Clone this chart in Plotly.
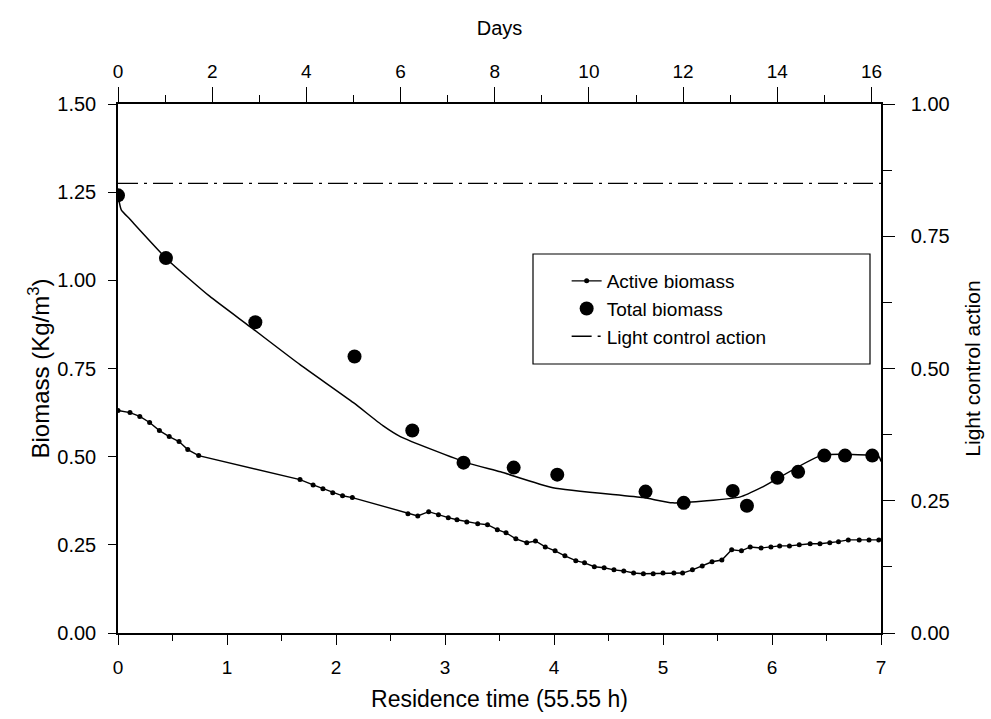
import plotly.graph_objects as go

# ---------------- data ----------------
# Total biomass (measured, residence-time units, Kg/m3)
total_x = [0.0, 0.44, 1.26, 2.17, 2.70, 3.17, 3.63, 4.03, 4.84, 5.19, 5.64, 5.77, 6.05, 6.24, 6.48, 6.67, 6.92]
total_y = [1.241, 1.063, 0.881, 0.784, 0.574, 0.483, 0.469, 0.449, 0.401, 0.369, 0.403, 0.361, 0.440, 0.457, 0.503, 0.503, 0.503]

# Total biomass (model curve)
model_x = [0.0, 0.03, 0.11, 0.45, 0.84, 1.21, 1.67, 2.16, 2.43, 2.59, 3.20, 3.51, 3.99, 4.82, 5.09, 5.71, 5.92, 6.45, 6.98, 7.0]
model_y = [1.241, 1.20, 1.173, 1.060, 0.955, 0.869, 0.761, 0.653, 0.588, 0.557, 0.483, 0.457, 0.412, 0.384, 0.369, 0.386, 0.415, 0.503, 0.500, 0.486]

# Active biomass
active_x = [0.0, 0.11, 0.20, 0.29, 0.38, 0.47, 0.56, 0.64, 0.74, 1.67, 1.79, 1.88, 1.97, 2.06, 2.15,
            2.66, 2.75, 2.85, 2.94, 3.03, 3.11, 3.20, 3.30, 3.39, 3.48, 3.56, 3.65, 3.75, 3.83, 3.92,
            4.01, 4.10, 4.20, 4.28, 4.37, 4.46, 4.55, 4.64, 4.73, 4.82, 4.91, 5.00, 5.10, 5.18, 5.27,
            5.36, 5.45, 5.54, 5.63, 5.72, 5.80, 5.90, 5.99, 6.07, 6.16, 6.25, 6.35, 6.44, 6.53, 6.61,
            6.70, 6.80, 6.89, 6.98]
active_y = [0.631, 0.625, 0.614, 0.597, 0.574, 0.557, 0.543, 0.520, 0.503, 0.435, 0.420, 0.409, 0.398, 0.389, 0.384,
            0.338, 0.332, 0.344, 0.335, 0.327, 0.321, 0.315, 0.310, 0.307, 0.293, 0.284, 0.267, 0.256, 0.261, 0.244,
            0.233, 0.219, 0.205, 0.199, 0.188, 0.185, 0.179, 0.176, 0.170, 0.168, 0.168, 0.170, 0.170, 0.170, 0.179,
            0.190, 0.202, 0.207, 0.236, 0.233, 0.244, 0.241, 0.244, 0.247, 0.247, 0.250, 0.253, 0.253, 0.256, 0.259,
            0.264, 0.264, 0.264, 0.264]

# Light control action (days, right axis)
light_days = [0.0, 16.2021]
light_action = [0.85, 0.85]

# Axis tick values
res_ticks = [0, 1, 2, 3, 4, 5, 6, 7]
day_ticks = [0, 2, 4, 6, 8, 10, 12, 14, 16]
bio_ticks = [0.0, 0.25, 0.5, 0.75, 1.0, 1.25, 1.5]
light_ticks = [0.0, 0.25, 0.5, 0.75, 1.0]

FONT = "Liberation Sans, Arial, sans-serif"

fig = go.Figure()

fig.add_trace(go.Scatter(
    x=active_x, y=active_y, mode="lines+markers", name="Active biomass",
    line=dict(color="black", width=1.4),
    marker=dict(color="black", size=5),
))
fig.add_trace(go.Scatter(
    x=total_x, y=total_y, mode="markers", name="Total biomass",
    marker=dict(color="black", size=14),
))
fig.add_trace(go.Scatter(
    x=model_x, y=model_y, mode="lines", showlegend=False,
    line=dict(color="black", width=1.5, shape="spline", smoothing=0.5),
))
fig.add_trace(go.Scatter(
    x=light_days, y=light_action, mode="lines", name="Light control action",
    xaxis="x2", yaxis="y2",
    line=dict(color="black", width=1.4, dash="20px,6px,3px,6px"),
))

axis_common = dict(
    showline=True, linecolor="black", linewidth=1.5, showgrid=False, zeroline=False,
    ticks="outside", tickcolor="black", tickwidth=1.3, automargin=False,
    tickfont=dict(family=FONT, size=19, color="black"),
)

fig.update_layout(
    width=991, height=719,
    margin=dict(l=118, r=110, t=104, b=86, autoexpand=False),
    paper_bgcolor="white", plot_bgcolor="white",
    font=dict(family=FONT, color="black"),
    showlegend=True,
    legend=dict(
        x=0.588, y=0.7013, xanchor="left", yanchor="top",
        bgcolor="rgba(0,0,0,0)", borderwidth=0,
        font=dict(family=FONT, size=19, color="black"),
        traceorder="normal", itemwidth=30, tracegroupgap=0,
    ),
    xaxis=dict(
        axis_common, range=[0, 7], tickvals=res_ticks, ticklen=10,
        ticklabelstandoff=6,
        minor=dict(dtick=0.5, ticklen=6, tickcolor="black", ticks="outside"),
        title=dict(text="Residence time (55.55 h)", font=dict(family=FONT, size=23), standoff=14),
    ),
    xaxis2=dict(
        axis_common, range=[0, 16.2021], tickvals=day_ticks, ticklen=15,
        overlaying="x", side="top", anchor="y2",
        ticklabelstandoff=2,
        minor=dict(dtick=1, ticklen=7, tickcolor="black", ticks="outside"),
        title=dict(text="Days", font=dict(family=FONT, size=20), standoff=20),
    ),
    yaxis=dict(
        axis_common, range=[0, 1.5], tickvals=bio_ticks, tickformat=".2f", ticklen=8,
        ticklabelstandoff=8, tickfont=dict(family=FONT, size=20, color="black"),
        title=dict(text="Biomass (Kg/m<sup>3</sup>)", font=dict(family=FONT, size=24), standoff=1),
    ),
    yaxis2=dict(
        axis_common, range=[0, 1], tickvals=light_ticks, tickformat=".2f", ticklen=12,
        overlaying="y", side="right", anchor="x2",
        ticklabelstandoff=12, tickfont=dict(family=FONT, size=20, color="black"),
        minor=dict(dtick=0.125, ticklen=9, tickcolor="black", ticks="outside"),
        title=dict(text="Light control action", font=dict(family=FONT, size=21), standoff=17),
    ),
    shapes=[dict(
        type="rect", xref="paper", yref="paper",
        x0=(533 - 118) / 763, x1=(870 - 118) / 763,
        y0=(633 - 364) / 529, y1=(633 - 254) / 529,
        line=dict(color="black", width=1.2), fillcolor="rgba(0,0,0,0)",
    )],
)

fig.write_html("out.html")
